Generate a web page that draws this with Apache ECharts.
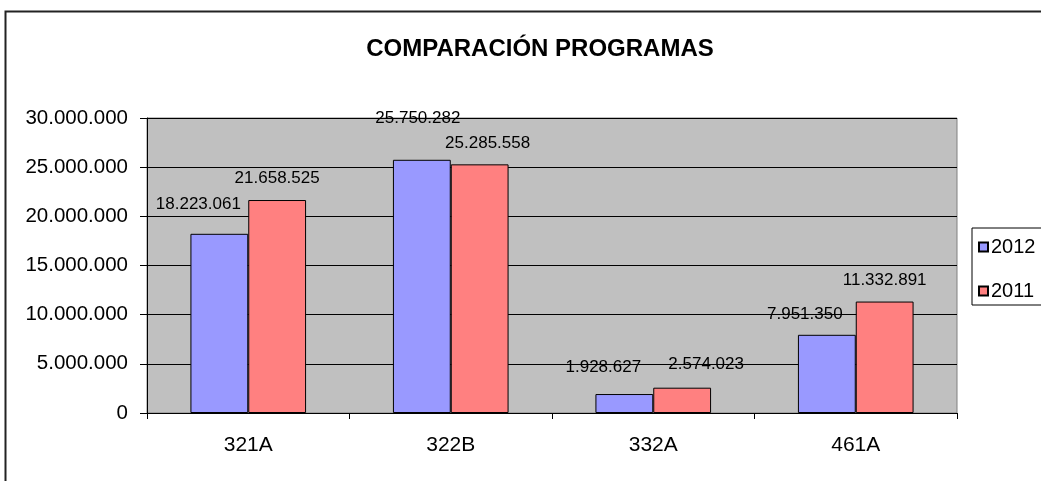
<!DOCTYPE html>
<html>
<head>
<meta charset="utf-8">
<title>Comparación programas</title>
<script src="https://cdn.jsdelivr.net/npm/echarts@6/dist/echarts.min.js"></script>
<style>
  html, body { margin: 0; padding: 0; background: #fff; }
  #chart { width: 1041px; height: 481px; }
</style>
</head>
<body>
<div id="chart"></div>
<script>
var categories = ['321A', '322B', '332A', '461A'];
var values2012 = [18223061, 25750282, 1928627, 7951350];
var values2011 = [21658525, 25285558, 2574023, 11332891];
var seriesNames = ['2012', '2011'];
var yMin = 0;
var yMax = 30000000;
var yStep = 5000000;

// label nudges, Excel moved some labels around
var shift2012 = [[-21, -8], [-4, -20], [-21, -5], [-22, 1]];
var shift2011 = [[0, 0], [8, 0], [24, -2], [0, 0]];

var font = '"Liberation Sans", Arial, sans-serif';

function dots(v) {
  return String(v).replace(/\B(?=(\d{3})+(?!\d))/g, '.');
}

function build(values, shifts) {
  return values.map(function (v, i) {
    return { value: v, label: { offset: shifts[i] } };
  });
}

var barLabel = {
  show: true,
  position: 'top',
  distance: 13,
  color: '#000',
  fontFamily: font,
  fontSize: 17,
  formatter: function (p) { return dots(p.value); }
};

var option = {
  animation: false,
  backgroundColor: '#fff',
  title: {
    text: 'COMPARACIÓN PROGRAMAS',
    left: 535,
    top: 32,
    textAlign: 'center',
    textStyle: {
      fontFamily: font,
      fontWeight: 'bold',
      fontSize: 24,
      color: '#000'
    }
  },
  legend: {
    orient: 'vertical',
    left: 972,
    top: 228,
    padding: [9, 40, 4, 6],
    itemGap: 24,
    itemWidth: 9,
    itemHeight: 9,
    icon: 'rect',
    borderColor: '#000',
    borderWidth: 1,
    backgroundColor: '#fff',
    textStyle: { fontFamily: font, fontSize: 20, color: '#000', padding: [0, 0, 0, -2] },
    data: seriesNames
  },
  graphic: [{
    type: 'rect',
    left: 3,
    top: 9,
    shape: { width: 1100, height: 520 },
    style: { fill: 'none', stroke: '#222', lineWidth: 2 },
    silent: true
  }],
  grid: {
    left: 147,
    right: 84,
    top: 118,
    bottom: 68,
    show: true,
    backgroundColor: '#C0C0C0',
    borderColor: '#808080',
    borderWidth: 1
  },
  xAxis: {
    type: 'category',
    data: categories,
    axisLine: { lineStyle: { color: '#000', width: 1 } },
    axisTick: { show: true, length: 6, lineStyle: { color: '#000' } },
    axisLabel: { margin: 22, fontFamily: font, fontSize: 21, color: '#000' }
  },
  yAxis: {
    type: 'value',
    min: yMin,
    max: yMax,
    interval: yStep,
    axisLine: { show: true, lineStyle: { color: '#000', width: 1 } },
    axisTick: { show: true, length: 7, lineStyle: { color: '#000' } },
    splitLine: { show: true, lineStyle: { color: '#000', width: 1 } },
    axisLabel: {
      margin: 19,
      fontFamily: font,
      fontSize: 20.5,
      color: '#000',
      formatter: dots
    }
  },
  series: [
    {
      name: seriesNames[0],
      type: 'bar',
      barGap: 0,
      barCategoryGap: '42.9%',
      itemStyle: { color: '#9999FF', borderColor: '#000', borderWidth: 1 },
      label: barLabel,
      data: build(values2012, shift2012)
    },
    {
      name: seriesNames[1],
      type: 'bar',
      barGap: 0,
      barCategoryGap: '42.9%',
      itemStyle: { color: '#FF8080', borderColor: '#000', borderWidth: 1 },
      label: barLabel,
      data: build(values2011, shift2011)
    }
  ]
};

var chart = echarts.init(document.getElementById('chart'));
chart.setOption(option);
</script>
</body>
</html>
